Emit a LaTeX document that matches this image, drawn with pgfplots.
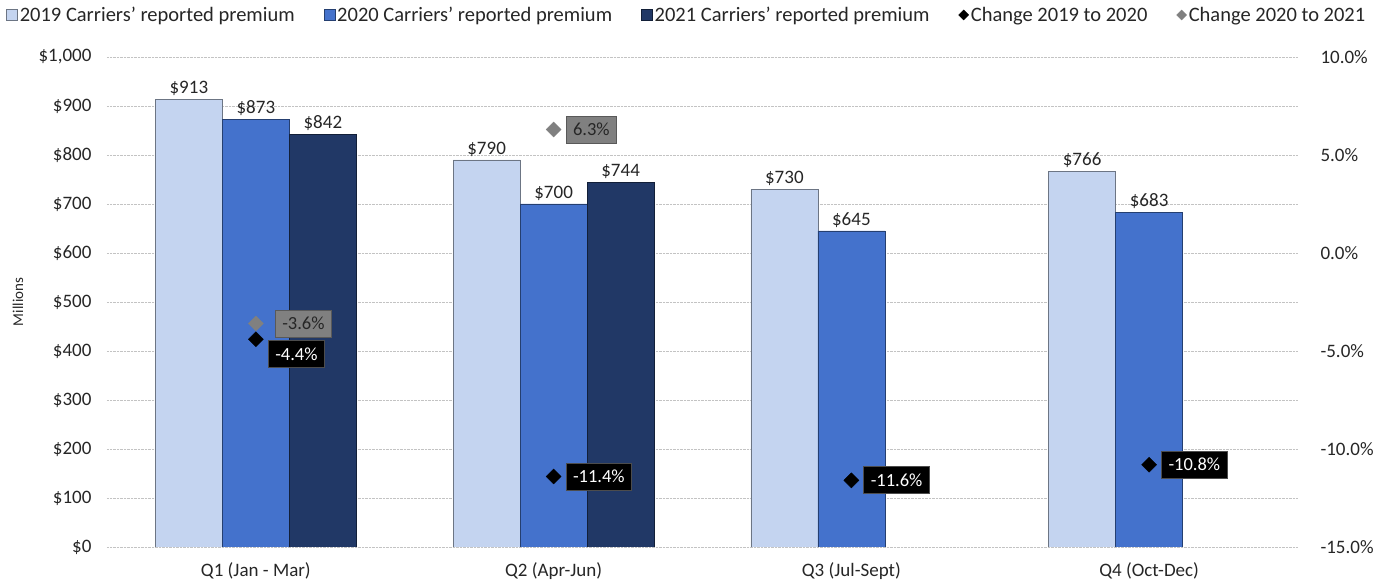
\documentclass[border=0pt]{standalone}
\usepackage{pgfplots}
\usepackage{pgfplotstable}
\pgfplotsset{compat=1.18}
\usepackage{fontspec}
\setmainfont{Carlito}
\definecolor{c19}{RGB}{196,212,240}
\definecolor{c20}{RGB}{68,114,204}
\definecolor{c21}{RGB}{33,56,102}
\definecolor{txt}{RGB}{38,38,38}
\definecolor{gridc}{RGB}{195,195,195}
\definecolor{gbox}{RGB}{128,128,128}

\pgfplotstableread{
x v19 v20 v21
0 913 873 842
1 790 700 744
2 730 645 nan
3 766 683 nan
}\prem

\pgfplotstableread{
x y dx dy
0 -4.4 12 -15
1 -11.4 12 0
2 -11.6 12 0
3 -10.8 12 0
}\chA

\pgfplotstableread{
x y dx dy
0 -3.6 19 0
1 6.3 12 0
}\chB

\pgfplotsset{/pgf/number format/assume math mode=true}

\begin{document}
\begin{tikzpicture}
\useasboundingbox (-107pt,-38pt) rectangle (1280pt,547pt);
\begin{axis}[
  at={(0,0)}, anchor=south west,
  scale only axis, width=1191pt, height=490pt,
  xmin=-0.5, xmax=3.5, ymin=0, ymax=1000,
  ybar=0pt, bar width=67pt,
  xtick={0,1,2,3},
  xticklabels={Q1 (Jan - Mar), Q2 (Apr-Jun), Q3 (Jul-Sept), Q4 (Oct-Dec)},
  ytick={0,100,...,1000},
  yticklabel={\$\pgfmathprintnumber[1000 sep={,}]{\tick}},
  ymajorgrids, major grid style={gridc, densely dotted, line width=0.8pt},
  axis line style={draw=none}, major tick length=0pt,
  tick label style={font=\fontsize{19}{22}\selectfont, text=txt},
  xticklabel style={yshift=-12pt},
  yticklabel style={xshift=-12pt},
  ylabel={Millions},
  every axis y label/.style={at={(axis description cs:-0.0747,0.5)}, anchor=center, rotate=90, font=\fontsize{15}{18}\selectfont, text=txt},
  nodes near coords={\$\pgfmathprintnumber{\pgfplotspointmeta}},
  every node near coord/.append style={font=\fontsize{19}{22}\selectfont, text=txt},
  legend columns=5,
  legend style={at={(axis description cs:0,1)}, anchor=west, xshift=-104pt, yshift=42pt, draw=none, fill=none,
    font=\fontsize{20.5}{23}\selectfont, text=txt,
    /tikz/every even column/.append style={column sep=27pt}},
  legend cell align=left,
]
\addplot[fill=c19, draw=c19!55!black, line width=0.6pt,
  legend image code/.code={\draw[fill=c19, draw=c19!55!black] (0pt,-5.5pt) rectangle (11pt,5.5pt);}]
  table[x=x, y=v19] {\prem};
\addlegendentry{2019 Carriers' reported premium}
\addplot[fill=c20, draw=c20!55!black, line width=0.6pt,
  legend image code/.code={\draw[fill=c20, draw=c20!55!black] (0pt,-5.5pt) rectangle (11pt,5.5pt);}]
  table[x=x, y=v20] {\prem};
\addlegendentry{2020 Carriers' reported premium}
\addplot[fill=c21, draw=c21!55!black, line width=0.6pt,
  legend image code/.code={\draw[fill=c21, draw=c21!55!black] (0pt,-5.5pt) rectangle (11pt,5.5pt);}]
  table[x=x, y=v21] {\prem};
\addlegendentry{2021 Carriers' reported premium}
\addlegendimage{legend image code/.code={\fill[black] (5pt,-5pt) -- (10pt,0pt) -- (5pt,5pt) -- (0pt,0pt) -- cycle;}}
\addlegendentry{Change 2019 to 2020}
\addlegendimage{legend image code/.code={\fill[gbox] (5pt,-5pt) -- (10pt,0pt) -- (5pt,5pt) -- (0pt,0pt) -- cycle;}}
\addlegendentry{Change 2020 to 2021}
\end{axis}

\begin{axis}[
  at={(0,0)}, anchor=south west,
  scale only axis, width=1191pt, height=490pt,
  xmin=-0.5, xmax=3.5, ymin=-15, ymax=10,
  axis x line=none, axis y line*=right,
  ytick={-15,-10,...,10},
  yticklabel={\pgfmathprintnumber[fixed,fixed zerofill,precision=1]{\tick}\%},
  axis line style={draw=none}, major tick length=0pt,
  tick label style={font=\fontsize{19}{22}\selectfont, text=txt},
  yticklabel style={xshift=19pt},
]
\addplot[only marks, mark=square*, mark size=5.3pt, black,
  every mark/.append style={rotate=45},
  point meta=y,
  visualization depends on={\thisrow{dx} \as \dx},
  visualization depends on={\thisrow{dy} \as \dy},
  nodes near coords={\pgfmathprintnumber[fixed,fixed zerofill,precision=1]{\pgfplotspointmeta}\%},
  nodes near coords align={anchor=west},
  every node near coord/.append style={anchor=west, xshift=\dx pt, yshift=\dy pt,
    fill=black, draw=black!70, line width=0.8pt, text=white, font=\fontsize{18.5}{21}\selectfont,
    minimum height=27pt, inner xsep=7pt, inner ysep=2pt}]
  table[x=x, y=y] {\chA};
\addplot[only marks, mark=square*, mark size=5.3pt, gbox,
  every mark/.append style={rotate=45},
  point meta=y,
  visualization depends on={\thisrow{dx} \as \dx},
  visualization depends on={\thisrow{dy} \as \dy},
  nodes near coords={\pgfmathprintnumber[fixed,fixed zerofill,precision=1]{\pgfplotspointmeta}\%},
  nodes near coords align={anchor=west},
  every node near coord/.append style={anchor=west, xshift=\dx pt, yshift=\dy pt,
    fill=gbox, draw=black!65, line width=0.8pt, text=txt, font=\fontsize{18.5}{21}\selectfont,
    minimum height=27pt, inner xsep=7pt, inner ysep=2pt}]
  table[x=x, y=y] {\chB};
\end{axis}
\end{tikzpicture}
\end{document}
